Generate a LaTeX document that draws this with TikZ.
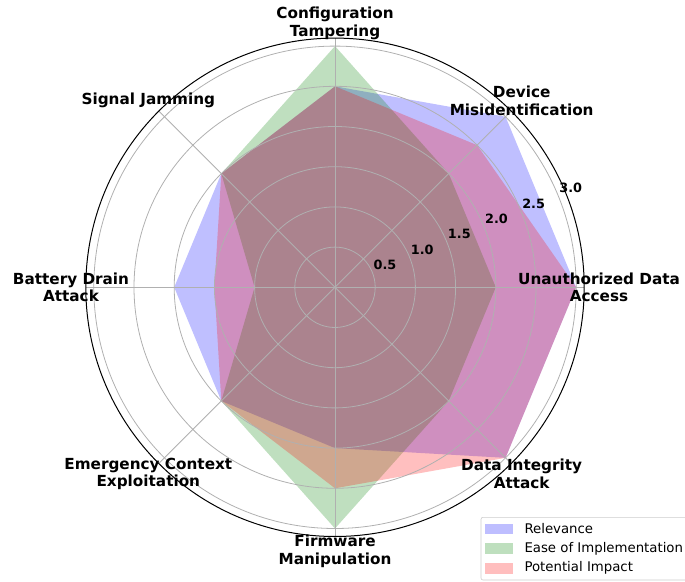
\documentclass[tikz,border=0pt]{standalone}
\usepackage{fontspec}
\setmainfont{DejaVu Sans}
\definecolor{mplblue}{RGB}{0,0,255}
\definecolor{mplgreen}{RGB}{0,128,0}
\definecolor{mplred}{RGB}{255,0,0}
\definecolor{gridgray}{RGB}{176,176,176}
\definecolor{legedge}{RGB}{204,204,204}
\tikzset{
  gridline/.style={draw=gridgray, line width=0.8pt},
  framecircle/.style={draw=black, line width=1pt},
  relfill/.style={fill=mplblue, fill opacity=0.25},
  easefill/.style={fill=mplgreen, fill opacity=0.25},
  impfill/.style={fill=mplred, fill opacity=0.25},
  axlabel/.style={inner sep=0pt, align=center, font=\fontsize{15.25}{17.5}\selectfont\bfseries},
  ticklabel/.style={inner sep=0pt, font=\fontsize{12.8}{14}\selectfont\bfseries, xshift=12.9pt, yshift=6.9pt},
  legtext/.style={inner sep=0pt, anchor=west, font=\fontsize{13.3}{15}\selectfont},
  legpatch/.style={minimum width=28pt, minimum height=10.5pt, inner sep=0pt, anchor=west}
}
\begin{document}
\begin{tikzpicture}[x=1pt,y=1pt]
\useasboundingbox (0,0) rectangle (685,581);
\clip (0,0) rectangle (685,581);
\begin{scope}[shift={(335,293.7)}]
  % data fills
  \fill[relfill] (0:241.2) -- (45:241.2) -- (90:201) -- (135:160.8) -- (180:160.8) -- (225:160.8) -- (270:160.8) -- (315:241.2) -- cycle;
  \fill[easefill] (0:160.8) -- (45:160.8) -- (90:241.2) -- (135:160.8) -- (180:80.4) -- (225:160.8) -- (270:241.2) -- (315:160.8) -- cycle;
  \fill[impfill] (0:241.2) -- (45:201) -- (90:201) -- (135:160.8) -- (180:120.6) -- (225:160.8) -- (270:201) -- (315:241.2) -- cycle;
  % grid
  \foreach \r in {1,...,6} \draw[gridline] (0,0) circle ({\r*40.2});
  \foreach \a in {0,45,...,315} \draw[gridline] (0,0) -- (\a:249.2);
  \draw[framecircle] (0,0) circle (249.2);
  % radial tick labels
  \node[ticklabel] (t1) at (22.5:40.2) {0.5};
  \node[ticklabel] (t2) at (22.5:80.4) {1.0};
  \node[ticklabel] (t3) at (22.5:120.6) {1.5};
  \node[ticklabel] (t4) at (22.5:160.8) {2.0};
  \node[ticklabel] (t5) at (22.5:201) {2.5};
  \node[ticklabel] (t6) at (22.5:241.2) {3.0};
  % axis labels
  \node[axlabel] (l0) at (0:264) {Unauthorized Data\\Access};
  \node[axlabel] (l1) at (45:264) {Device\\Misidentification};
  \node[axlabel] (l2) at (90:264) {Configuration\\Tampering};
  \node[axlabel] (l3) at (135:264) {Signal Jamming};
  \node[axlabel] (l4) at (180:264) {Battery Drain\\Attack};
  \node[axlabel] (l5) at (225:264) {Emergency Context\\Exploitation};
  \node[axlabel] (l6) at (270:264) {Firmware\\Manipulation};
  \node[axlabel] (l7) at (315:264) {Data Integrity\\Attack};
\end{scope}
% legend
\draw[draw=legedge, fill=white, fill opacity=0.8, rounded corners=2pt, line width=0.6pt] (481,1) rectangle (700,63.7);
\node[legpatch, relfill] (p1) at (485,52) {};
\node[legpatch, easefill] (p2) at (485,32.3) {};
\node[legpatch, impfill] (p3) at (485,12.7) {};
\node[legtext] (g1) at (524.3,52) {Relevance};
\node[legtext] (g2) at (524.3,32.3) {Ease of Implementation};
\node[legtext] (g3) at (524.3,12.7) {Potential Impact};
\end{tikzpicture}
\end{document}
